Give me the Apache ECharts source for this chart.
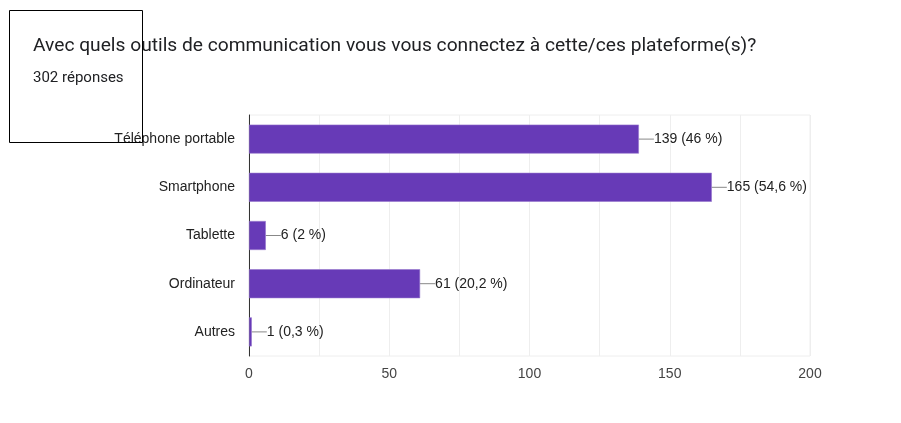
<!DOCTYPE html>
<html><head><meta charset="utf-8">
<script src="https://cdn.jsdelivr.net/npm/echarts@6/dist/echarts.min.js"></script>
<style>html,body{margin:0;padding:0;background:#fff}#c{width:901px;height:423px}</style>
</head><body><div id="c"></div>
<script>
const categories = ['Téléphone portable','Smartphone','Tablette','Ordinateur','Autres'];
const counts = [139,165,6,61,1];
const percents = ['46','54,6','2','20,2','0,3'];
const xTicks = [0,50,100,150,200];

const chart = echarts.init(document.getElementById('c'));
chart.setOption({
  animation:false,
  backgroundColor:'#fff',
  title:{
    text:'Avec quels outils de communication vous vous connectez à cette/ces plateforme(s)?',
    subtext:'302 réponses',
    left:33, top:37, itemGap:15, padding:0,
    textStyle:{fontFamily:'Roboto',fontSize:19.2,fontWeight:'normal',color:'#202124'},
    subtextStyle:{fontFamily:'Roboto',fontSize:15,color:'#202124'}
  },
  graphic:[{type:'rect',shape:{x:9.5,y:10.5,width:133,height:132},style:{fill:'none',stroke:'#000',lineWidth:1},z:100}],
  grid:{left:249,right:91,top:115,bottom:67,show:true,borderColor:'#eee',borderWidth:1},
  xAxis:{type:'value',min:0,max:200,interval:25,
    axisLine:{show:false},axisTick:{show:false},
    splitLine:{lineStyle:{color:'#eee'}},
    axisLabel:{margin:11,fontFamily:'Liberation Sans',fontSize:14,color:'#444',
      formatter:v=>xTicks.includes(v)?String(v):''}},
  yAxis:{type:'category',data:categories,inverse:true,
    axisLine:{show:true,lineStyle:{color:'#333'}},axisTick:{show:false},
    axisLabel:{margin:14,fontFamily:'Liberation Sans',fontSize:14,color:'#222'}},
  series:[{type:'bar',data:counts,barWidth:29,
    itemStyle:{color:'#673ab7',borderColor:'#9575cd',borderWidth:0.6},
    label:{show:true,position:'right',distance:0,fontFamily:'Liberation Sans',fontSize:14,color:'#222',
      formatter:p=>counts[p.dataIndex]+' ('+percents[p.dataIndex]+' %)'},
    labelLayout:{dx:15},
    labelLine:{show:true,lineStyle:{color:'#888',width:1}}
  }]
});
</script></body></html>
